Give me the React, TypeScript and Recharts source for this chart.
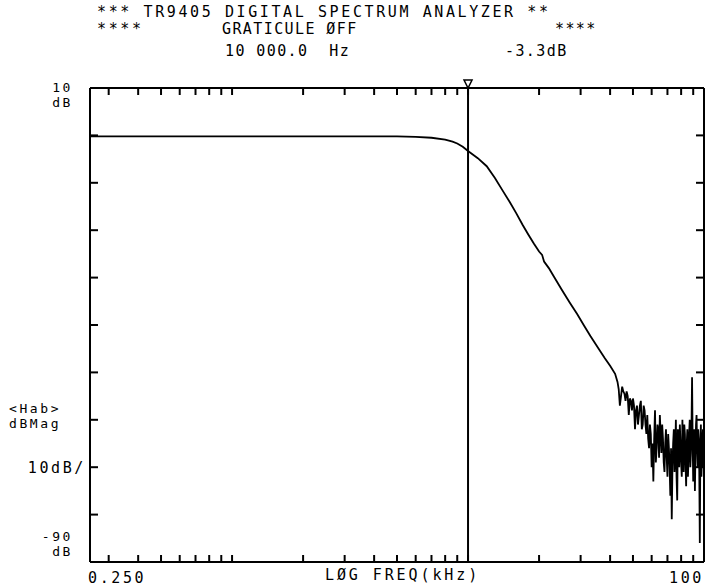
import { LineChart, Line, XAxis, YAxis, ReferenceLine } from 'recharts';

// filter response (kHz / dB)
const rolloffFreq = [0.25, 0.3, 0.4, 0.5, 0.7, 1, 1.5, 2, 3, 4, 5, 6, 7, 8, 8.6, 9, 9.5, 10, 11, 12, 13, 14, 15, 16, 17, 18, 19, 20, 20.6, 21, 22, 23, 25, 27, 29, 31, 33, 36, 38, 40, 42];
const rolloffDb = [-0.2, -0.2, -0.2, -0.2, -0.2, -0.2, -0.2, -0.2, -0.2, -0.2, -0.2, -0.3, -0.5, -0.9, -1.3, -1.7, -2.4, -3.3, -4.8, -6.5, -9.0, -11.6, -14.0, -16.4, -18.8, -20.9, -22.8, -24.5, -25.2, -26.6, -28.0, -29.6, -32.6, -35.3, -37.7, -40.1, -42.3, -45.2, -47.0, -48.6, -50.3];

// noisy tail above ~43 kHz
const noiseFreq = [
  43, 43.5, 44, 44.5, 45, 45.5, 46, 46.5, 47, 47.5, 48, 48.5, 49, 49.5, 50, 50.5, 51, 51.5, 52, 52.5,
  53, 53.5, 54, 54.5, 55, 55.5, 56, 56.5, 57, 57.5, 58, 58.5, 59, 59.5, 60, 60.5, 61, 61.5, 62, 62.5,
  63, 63.5, 64, 64.5, 65, 65.5, 66, 66.5, 67, 67.5, 68, 68.5, 69, 69.5, 70, 70.5, 71, 71.5, 72, 72.5,
  73, 73.5, 74, 74.5, 75, 75.5, 76, 76.5, 77, 77.5, 78, 78.5, 79, 79.5, 80, 80.5, 81, 81.5, 82, 82.5,
  83, 83.5, 84, 84.5, 85, 85.5, 86, 86.5, 87, 87.5, 88, 88.5, 89, 89.5, 90, 90.5, 91, 91.5, 92, 92.5,
  93, 93.5, 94, 94.5, 95, 95.5, 96, 96.5, 97, 97.5, 98, 98.5, 99, 99.5, 100,
];
const noiseDb = [
  -52, -53.5, -57, -55, -53, -54, -54.5, -56, -54, -55, -59, -55.5, -56, -58, -55.5, -57, -62, -58, -57, -61,
  -59, -57, -56, -62, -61, -57, -58, -61, -63, -59, -64, -66, -61, -63, -70, -65, -73, -64, -58, -69,
  -66, -61, -62, -68, -59, -63, -67, -61, -64, -69, -71, -65, -62, -68, -72, -63, -66, -70, -76, -66,
  -81, -70, -65, -62, -71, -67, -60, -72, -77, -62, -64, -70, -61, -65, -69, -72, -60, -66, -71, -61,
  -63, -69, -74, -65, -62, -72, -68, -63, -60, -70, -67, -62, -51, -64, -73, -68, -62, -75, -67, -61,
  -59, -66, -70, -62, -64, -71, -86, -66, -61, -72, -68, -64, -62, -70, -66,
];

const xTicks = [0.25, 0.3, 0.4, 0.5, 0.6, 0.7, 0.8, 0.9, 1, 2, 3, 4, 5, 6, 7, 8, 9, 10, 20, 30, 40, 50, 60, 70, 80, 90, 100];
const yTicks = [10, 0, -10, -20, -30, -40, -50, -60, -70, -80, -90];
const cursorFreq = 10;

const data = [
  ...rolloffFreq.map((f, i) => ({ f, db: rolloffDb[i] })),
  ...noiseFreq.map((f, i) => ({ f, db: noiseDb[i] })),
];

const FONT = '"DejaVu Sans Mono", "Liberation Mono", monospace';
const txt = { fontFamily: FONT, fontSize: 15, letterSpacing: '2.6px', fill: '#000' };
const small = { fontFamily: FONT, fontSize: 13, letterSpacing: '2.6px', fill: '#000' };

function BottomTick(props: any) {
  const { x, y, payload } = props;
  const v = payload.value;
  return (
    <g>
      {v > 0.25 && v < 100 && <line x1={x} y1={y} x2={x} y2={y - 7} stroke="#000" strokeWidth={2} />}
      {v === 0.25 && <text x={x - 2} y={y + 21} textAnchor="start" style={txt}>0.250</text>}
      {v === 100 && <text x={x} y={y + 21} textAnchor="end" style={txt}>100</text>}
    </g>
  );
}

function TopTick(props: any) {
  const { x, y, payload } = props;
  const v = payload.value;
  if (v <= 0.25 || v >= 100) return <g />;
  return <line x1={x} y1={y} x2={x} y2={y + 7} stroke="#000" strokeWidth={2} />;
}

function LeftTick(props: any) {
  const { x, y, payload } = props;
  const v = payload.value;
  const lx = x - 17;
  return (
    <g>
      {v < 10 && v > -90 && <line x1={x} y1={y} x2={x + 8} y2={y} stroke="#000" strokeWidth={2} />}
      {v === 10 && (
        <>
          <text x={lx} y={y + 4} textAnchor="end" style={small}>10</text>
          <text x={lx} y={y + 19} textAnchor="end" style={small}>dB</text>
        </>
      )}
      {v === -60 && (
        <>
          <text x={9} y={y - 7} textAnchor="start" style={small}>{'<Hab>'}</text>
          <text x={9} y={y + 8} textAnchor="start" style={small}>dBMag</text>
        </>
      )}
      {v === -70 && <text x={x - 4} y={y + 6} textAnchor="end" style={txt}>10dB/</text>}
      {v === -90 && (
        <>
          <text x={lx} y={y - 21} textAnchor="end" style={small}>-90</text>
          <text x={lx} y={y - 6} textAnchor="end" style={small}>dB</text>
        </>
      )}
    </g>
  );
}

function RightTick(props: any) {
  const { x, y, payload } = props;
  const v = payload.value;
  if (v >= 10 || v <= -90) return <g />;
  return <line x1={x} y1={y} x2={x - 8} y2={y} stroke="#000" strokeWidth={2} />;
}

function CursorMark(props: any) {
  const { x, y } = props.viewBox;
  return <path d={`M${x - 4},${y - 8} L${x + 4},${y - 8} L${x},${y} Z`} fill="#fff" stroke="#000" strokeWidth={1.5} />;
}

const line = (left: number, top: number, s: string, spacing = 1.4) => (
  <div style={{ position: 'absolute', left, top, fontFamily: FONT, fontSize: 15, letterSpacing: `${spacing}px`, whiteSpace: 'pre', lineHeight: '16px', color: '#000' }}>{s}</div>
);

export default function App() {
  return (
    <div style={{ position: 'absolute', left: 0, top: 0, width: 706, height: 586, background: '#fff' }}>
      {line(97, 4, '*** TR9405 DIGITAL SPECTRUM ANALYZER **', 2.6)}
      {line(97, 21, '****', 2.6)}
      {line(222, 21, 'GRATICULE ØFF')}
      {line(555, 21, '****')}
      {line(225, 43, '10 000.0  Hz')}
      {line(505, 43, '-3.3dB')}
      {line(325, 567, 'LØG FREQ(kHz)', 2.9)}
      <LineChart width={706} height={586} data={data} margin={{ top: 87, right: 1, bottom: 23, left: 89 }}>
        <XAxis xAxisId="b" dataKey="f" type="number" scale="log" domain={[0.25, 100]} allowDataOverflow
          ticks={xTicks} interval={0} height={1} tickSize={0} tickMargin={0} tickLine={false}
          axisLine={{ stroke: '#000', strokeWidth: 2 }} tick={<BottomTick />} />
        <XAxis xAxisId="t" orientation="top" dataKey="f" type="number" scale="log" domain={[0.25, 100]} allowDataOverflow
          ticks={xTicks} interval={0} height={1} tickSize={0} tickMargin={0} tickLine={false}
          axisLine={{ stroke: '#000', strokeWidth: 2 }} tick={<TopTick />} />
        <YAxis yAxisId="l" type="number" domain={[-90, 10]} allowDataOverflow ticks={yTicks} interval={0}
          width={1} tickSize={0} tickMargin={0} tickLine={false}
          axisLine={{ stroke: '#000', strokeWidth: 2 }} tick={<LeftTick />} />
        <YAxis yAxisId="r" orientation="right" type="number" domain={[-90, 10]} allowDataOverflow ticks={yTicks} interval={0}
          width={1} tickSize={0} tickMargin={0} tickLine={false}
          axisLine={{ stroke: '#000', strokeWidth: 2 }} tick={<RightTick />} />
        <ReferenceLine xAxisId="b" yAxisId="l" x={cursorFreq} stroke="#000" strokeWidth={2} label={<CursorMark />} />
        <Line xAxisId="b" yAxisId="l" dataKey="db" type="linear" dot={false} stroke="#000" strokeWidth={1.8} isAnimationActive={false} />
        <Line xAxisId="t" yAxisId="r" dataKey="db" type="linear" dot={false} stroke="none" isAnimationActive={false} legendType="none" />
      </LineChart>
    </div>
  );
}
